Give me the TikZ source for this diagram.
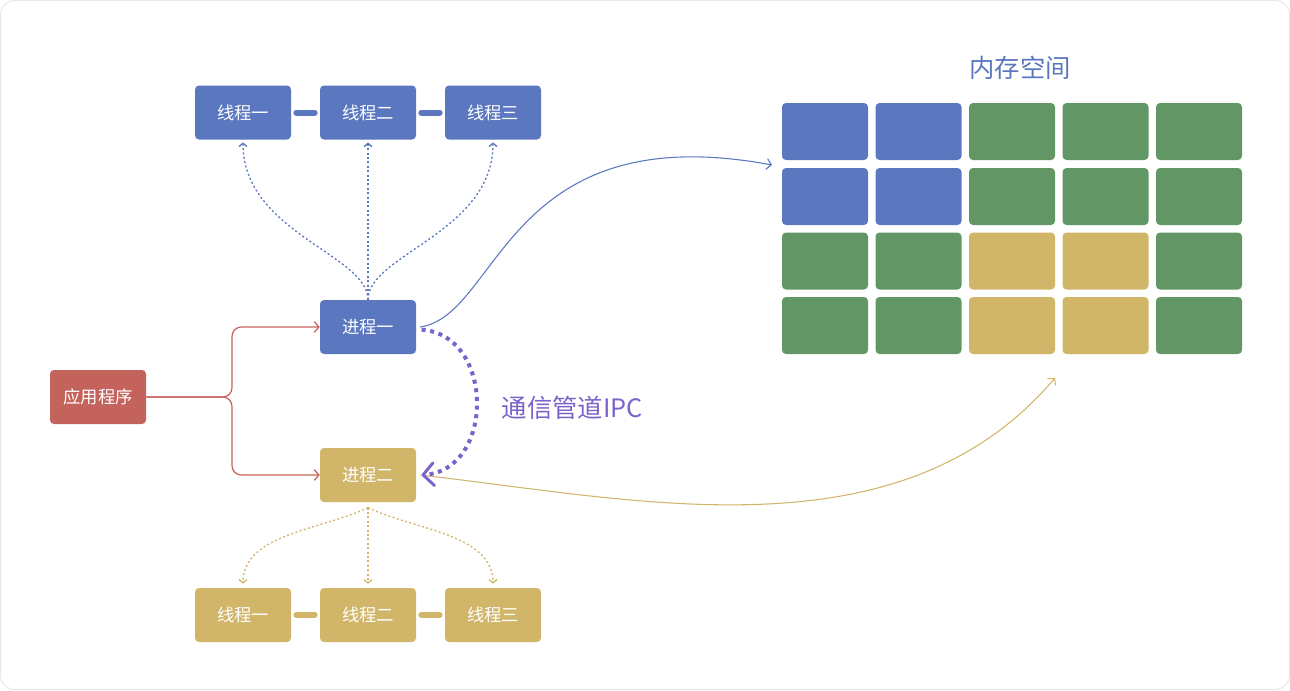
\documentclass[tikz,border=0pt]{standalone}
\usepackage{fontspec}
\setmainfont{Noto Sans CJK SC}
\usetikzlibrary{arrows.meta}
\definecolor{cblue}{HTML}{5B77C0}
\definecolor{cgreen}{HTML}{629765}
\definecolor{cyellow}{HTML}{D1B66A}
\definecolor{cred}{HTML}{C4625C}
\definecolor{cpurple}{HTML}{7B62CB}
\begin{document}
\begin{tikzpicture}[x=0.75pt,y=-0.75pt,
  box/.style={rounded corners=3pt, minimum width=72pt, minimum height=40.5pt, inner sep=0pt,
    text=white, font=\fontsize{13}{15}\selectfont},
  cell/.style={rounded corners=3pt},
  bar/.style={line width=4.5pt, line cap=round, shorten <=3.8pt, shorten >=3.8pt},
  dotline/.style={line width=1pt, dash pattern=on 1.5pt off 1.8pt, -{Straight Barb[length=2.5pt,width=6pt]}},
  redline/.style={cred, line width=0.9pt, rounded corners=7pt, -{Straight Barb[length=3.5pt,width=8pt]}},
  thin/.style={line width=0.8pt, -{Straight Barb[length=3.5pt,width=8pt]}}
]
\useasboundingbox (0,0) rectangle (1290,690);
\draw[draw=black!9, line width=0.75pt, rounded corners=11pt] (0.5,0.5) rectangle (1289.5,689.5);

% top threads
\node[box,fill=cblue] (t1) at (243,112.5) {线程一};
\node[box,fill=cblue] (t2) at (368,112.5) {线程二};
\node[box,fill=cblue] (t3) at (493,112.5) {线程三};
\draw[cblue,bar] (t1.east) -- (t2.west);
\draw[cblue,bar] (t2.east) -- (t3.west);

% processes and app
\node[box,fill=cblue] (p1) at (368,327) {进程一};
\node[box,fill=cyellow] (p2) at (368,475) {进程二};
\node[box,fill=cred] (app) at (98,397) {应用程序};

% bottom threads
\node[box,fill=cyellow] (b1) at (243,615) {线程一};
\node[box,fill=cyellow] (b2) at (368,615) {线程二};
\node[box,fill=cyellow] (b3) at (493,615) {线程三};
\draw[cyellow,bar] (b1.east) -- (b2.west);
\draw[cyellow,bar] (b2.east) -- (b3.west);

% memory grid
\node[text=cblue, font=\fontsize{19}{22}\selectfont] (title) at (1020,68) {内存空间};
\foreach \c [count=\i from 0] in {cblue,cblue,cgreen,cgreen,cgreen}{
  \fill[cell,\c] ({782+93.5*\i},103) rectangle +(86,57);
  \fill[cell,\c] ({782+93.5*\i},168) rectangle +(86,57);
}
\foreach \c [count=\i from 0] in {cgreen,cgreen,cyellow,cyellow,cgreen}{
  \fill[cell,\c] ({782+93.5*\i},232.5) rectangle +(86,57);
  \fill[cell,\c] ({782+93.5*\i},297) rectangle +(86,57);
}
\coordinate (memin) at (772,165);
\coordinate (memout) at (1055,378);

% app to processes
\draw[redline] (app.east) -- (232,397) |- (p1.west);
\draw[redline] (app.east) -- (232,397) |- (p2.west);

% process 1 to threads
\draw[cblue,dotline] (p1.north) .. controls +(0,-45) and +(0,90) .. ([yshift=-2pt]t1.south);
\draw[cblue,dotline] (p1.north) -- ([yshift=-2pt]t2.south);
\draw[cblue,dotline] (p1.north) .. controls +(0,-45) and +(0,90) .. ([yshift=-2pt]t3.south);

% process 2 to threads
\draw[cyellow,dotline] ([yshift=-4pt]p2.south) .. controls +(-45,22) and +(0,-50) .. ([yshift=3pt]b1.north);
\draw[cyellow,dotline] ([yshift=-4pt]p2.south) -- ([yshift=3pt]b2.north);
\draw[cyellow,dotline] ([yshift=-4pt]p2.south) .. controls +(45,22) and +(0,-50) .. ([yshift=3pt]b3.north);

% to memory
\draw[cblue,thin] ([xshift=3pt]p1.east) .. controls (500,315) and (505,115) .. (memin);
\draw[cyellow,thin] ([xshift=3pt]p2.east) .. controls (640,500) and (900,560) .. (memout);

% IPC
\draw[cpurple, line width=3pt, dash pattern=on 3pt off 3.5pt,
  -{Straight Barb[round,length=8pt,width=17pt,line width=2.2pt]}]
  ([xshift=4pt,yshift=-2pt]p1.east) .. controls (495,335) and (495,470) .. ([xshift=4pt]p2.east);
\node[text=cpurple, font=\fontsize{19}{22}\selectfont, anchor=west] (ipc) at (497,408) {通信管道IPC};
\end{tikzpicture}
\end{document}
